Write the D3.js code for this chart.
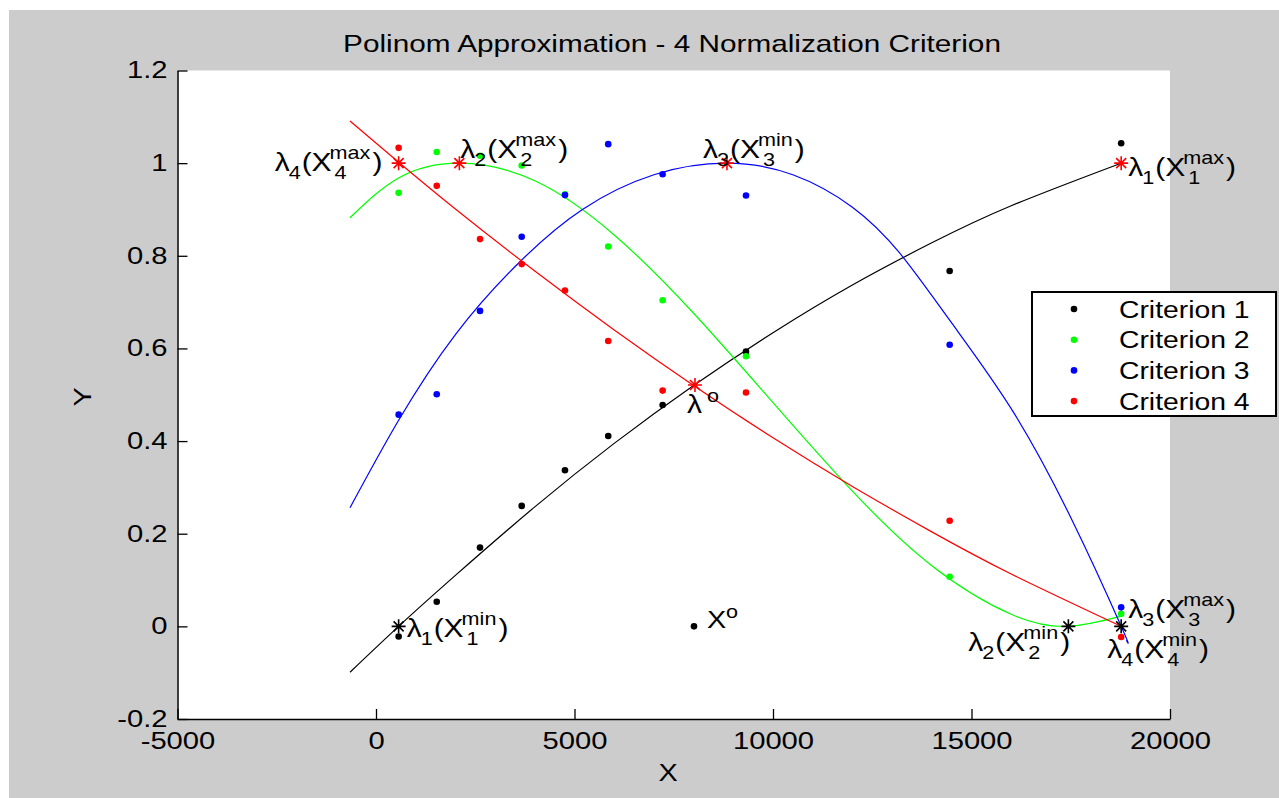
<!DOCTYPE html>
<html><head><meta charset="utf-8">
<script src="https://cdn.jsdelivr.net/npm/d3@7"></script>
<style>
body{margin:0;background:#fff;}
svg{display:block;}
text{font-family:"Liberation Sans",Arial,sans-serif;fill:#000;}
</style>
</head><body>
<svg id="c" width="1279" height="798"></svg>
<script>
// ---------- data ----------
const xPoints   = [570, 1530, 2620, 3670, 4760, 5850, 7220, 9320, 14450, 18770];
const criterion1 = [-0.022, 0.053, 0.170, 0.260, 0.337, 0.411, 0.478, 0.593, 0.767, 1.043];
const criterion2 = [0.936, 1.024, 1.016, 0.995, 0.933, 0.820, 0.704, 0.583, 0.107, 0.027];
const criterion3 = [0.457, 0.501, 0.681, 0.841, 0.931, 1.041, 0.976, 0.930, 0.608, 0.041];
const criterion4 = [1.033, 0.951, 0.836, 0.782, 0.725, 0.616, 0.509, 0.505, 0.228, -0.023];

// fitted polynomial curves
const fit1X = [-655, 570, 2000, 4000, 6000, 8000, 10000, 12000, 14000, 16000, 18770];
const fit1Y = [-0.099, 0.000, 0.110, 0.258, 0.395, 0.520, 0.634, 0.737, 0.828, 0.908, 1.000];
const fit2X = [-655, 570, 2100, 4000, 6000, 8000, 10000, 12000, 14000, 16000, 17440, 18770];
const fit2Y = [0.882, 0.968, 1.000, 0.962, 0.845, 0.676, 0.483, 0.292, 0.131, 0.026, 0.000, 0.022];
const fit3X = [-655, 570, 2000, 3600, 5200, 7000, 8840, 10500, 12000, 13200, 14500, 16000, 17500, 18770, 18900];
const fit3Y = [0.256, 0.445, 0.630, 0.785, 0.900, 0.975, 1.000, 0.975, 0.905, 0.805, 0.655, 0.470, 0.235, 0.000, -0.030];
const fit4X = [-655, 570, 2000, 4000, 6000, 8000, 10000, 12000, 14000, 16000, 18770];
const fit4Y = [1.091, 1.002, 0.901, 0.767, 0.640, 0.520, 0.407, 0.302, 0.204, 0.113, 0.000];

const seriesNames  = ["Criterion 1", "Criterion 2", "Criterion 3", "Criterion 4"];
const seriesColors = ["#000000", "#00ff00", "#0000ff", "#ff0000"];

const xTicks = [-5000, 0, 5000, 10000, 15000, 20000];
const yTicks = [-0.2, 0, 0.2, 0.4, 0.6, 0.8, 1, 1.2];
const xTickLabels = ["-5000", "0", "5000", "10000", "15000", "20000"];
const yTickLabels = ["-0.2", "0", "0.2", "0.4", "0.6", "0.8", "1", "1.2"];

// special points (stars) : extremes of the fits
const starX     = [570, 2100, 8840, 18770, 8035, 570, 17440, 18770];
const starY     = [1, 1, 1, 1, 0.521, 0, 0, 0];
const starColor = ["#ff0000","#ff0000","#ff0000","#ff0000","#ff0000","#000000","#000000","#000000"];

// lambda labels: index, superscript word, anchor star
const labelIdx  = ["4", "2", "3", "1", "1", "2", "3", "4"];
const labelWord = ["max", "max", "min", "max", "min", "min", "max", "min"];
const labelStar = [0, 1, 2, 3, 5, 6, 7, 7];

// ideal point X°
const idealX = [8010];
const idealY = [0.0];

const titleText = "Polinom Approximation - 4 Normalization Criterion";

// ---------- layout ----------
const svg = d3.select("#c");
svg.append("rect").attr("x", 9).attr("y", 10).attr("width", 1270).attr("height", 788).attr("fill", "#cccccc");

const L = 177.5, R = 1170, T = 70.5, B = 719;
const x = d3.scaleLinear().domain([-5000, 20000]).range([L, R]);
const y = d3.scaleLinear().domain([-0.2, 1.2]).range([B, T]);

svg.append("rect").attr("x", L).attr("y", T).attr("width", R - L).attr("height", B - T).attr("fill", "#fff");

function stxt(g, px, py, s, size, sx, anchor) {
  return g.append("text")
    .attr("transform", `translate(${px},${py}) scale(${sx},1)`)
    .attr("font-size", size)
    .attr("text-anchor", anchor || "start")
    .text(s);
}
function tw(t, sx) { return t.node().getComputedTextLength() * sx; }

// axes
const TS = 1.27;
const ax = svg.append("g").attr("transform", `translate(0,${B})`)
  .call(d3.axisBottom(x).tickValues(xTicks).tickFormat((d, i) => xTickLabels[i]).tickSizeInner(-10).tickSizeOuter(0).tickPadding(14));
const ay = svg.append("g").attr("transform", `translate(${L},0)`)
  .call(d3.axisLeft(y).tickValues(yTicks).tickFormat((d, i) => yTickLabels[i]).tickSizeInner(-10).tickSizeOuter(0).tickPadding(10));
[ax, ay].forEach(a => {
  a.select(".domain").attr("stroke", "#000").attr("stroke-width", 1.5);
  a.selectAll(".tick line").attr("stroke", "#000").attr("stroke-width", 1.3);
  a.selectAll(".tick text").attr("font-size", 23).attr("font-family", "Liberation Sans, Arial, sans-serif").attr("fill", "#000");
});
ax.selectAll(".tick text").attr("transform", `scale(${TS},1)`);
ay.selectAll(".tick text").attr("x", -10 / TS).attr("transform", `scale(${TS},1)`);

// title and axis labels
stxt(svg, 672, 52, titleText, 24, 1.24, "middle");
stxt(svg, 668, 781, "X", 24, 1.2, "middle");
svg.append("text").attr("transform", "translate(91,397) rotate(-90) scale(1.2,1)")
  .attr("font-size", 24).attr("text-anchor", "middle").text("Y");

// fitted curves
const fits = [[fit1X, fit1Y], [fit2X, fit2Y], [fit3X, fit3Y], [fit4X, fit4Y]];
const line = d3.line().x(d => x(d[0])).y(d => y(d[1])).curve(d3.curveNatural);
fits.forEach((f, i) => {
  const pts = f[0].map((v, k) => [v, f[1][k]]);
  svg.append("path").attr("d", line(pts)).attr("fill", "none")
    .attr("stroke", seriesColors[i]).attr("stroke-width", 1.2);
});

// data dots
const series = [criterion1, criterion2, criterion3, criterion4];
series.forEach((s, i) => {
  svg.append("g").selectAll("circle").data(s).join("circle")
    .attr("cx", (d, k) => x(xPoints[k])).attr("cy", d => y(d))
    .attr("r", 3.3).attr("fill", seriesColors[i]);
});
svg.append("g").selectAll("circle").data(idealY).join("circle")
  .attr("cx", (d, k) => x(idealX[k])).attr("cy", d => y(d)).attr("r", 3.3).attr("fill", "#000");

// stars
function star(g, cx, cy, col) {
  const a = 7, b = 5;
  g.append("path")
    .attr("d", `M${cx - a},${cy}H${cx + a}M${cx},${cy - a}V${cy + a}M${cx - b},${cy - b}L${cx + b},${cy + b}M${cx - b},${cy + b}L${cx + b},${cy - b}`)
    .attr("stroke", col).attr("stroke-width", 1.6).attr("fill", "none");
}
starX.forEach((v, i) => star(svg, x(v), y(starY[i]), starColor[i]));

// lambda labels
const labelOffset = [[-124, 8], [1, -5], [-24, -5], [7, 13], [8, 11], [-100, 25], [7, -8], [-14, 32]];
const LS = 1.2;
function lambdaLabel(x0, y0, idx, word) {
  stxt(svg, x0, y0, "λ", 25, LS);
  stxt(svg, x0 + 14, y0 + 8, idx, 18, LS);
  const p = stxt(svg, x0 + 27, y0, "(X", 25, LS);
  const xs = x0 + 27 + tw(p, LS) - 2;
  const sup = stxt(svg, xs, y0 - 12, word, 18, LS);
  stxt(svg, xs + 5, y0 + 8, idx, 18, LS);
  stxt(svg, xs + tw(sup, LS) + 2, y0, ")", 25, LS);
}
labelIdx.forEach((idx, i) => {
  const si = labelStar[i];
  lambdaLabel(x(starX[si]) + labelOffset[i][0], y(starY[si]) + labelOffset[i][1], idx, labelWord[i]);
});

// λ° label
{
  const sx0 = x(starX[4]), sy0 = y(starY[4]);
  stxt(svg, sx0 - 8, sy0 + 28, "λ", 25, LS);
  stxt(svg, sx0 + 12, sy0 + 17, "o", 18, LS);
}
// X° label
{
  const px = x(idealX[0]), py = y(idealY[0]);
  stxt(svg, px + 13, py + 2, "X", 24, LS);
  stxt(svg, px + 32, py - 8, "o", 18, LS);
}

// legend
const lg = svg.append("g");
lg.append("rect").attr("x", 1032).attr("y", 292).attr("width", 244).attr("height", 124)
  .attr("fill", "#fff").attr("stroke", "#000").attr("stroke-width", 2);
seriesNames.forEach((n, i) => {
  const yy = 309 + i * 30.7;
  lg.append("circle").attr("cx", 1074).attr("cy", yy).attr("r", 3.3).attr("fill", seriesColors[i]);
  stxt(lg, 1119, yy + 8.5, n, 24, 1.18);
});
</script>
</body></html>
